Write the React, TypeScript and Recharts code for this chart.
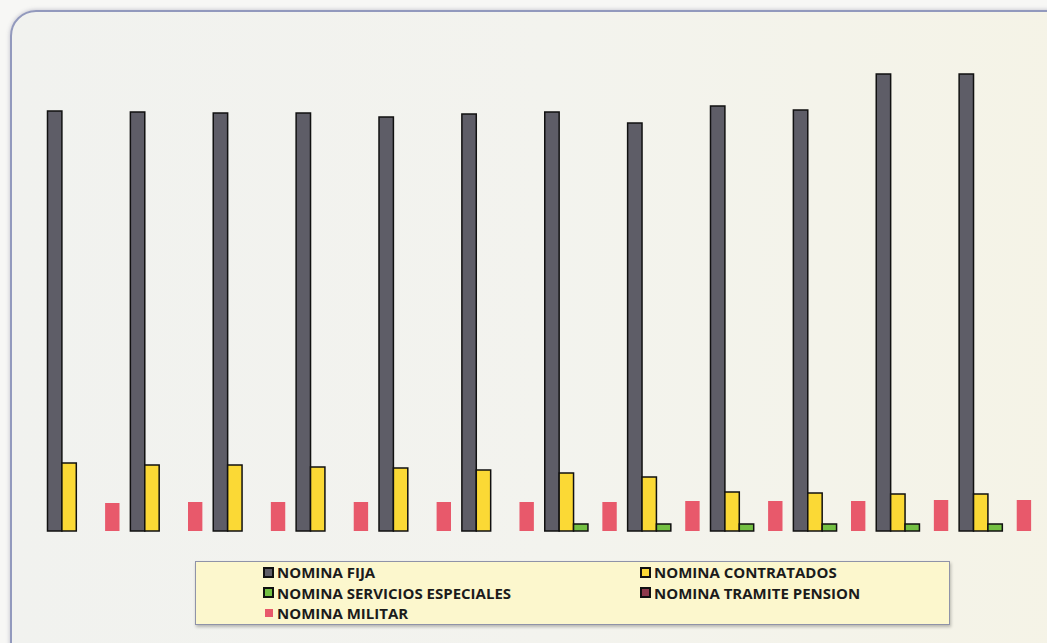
import { BarChart, Bar, XAxis, YAxis, Legend } from "recharts";

// twelve monthly payroll groups
const periods = ["P1", "P2", "P3", "P4", "P5", "P6", "P7", "P8", "P9", "P10", "P11", "P12"];
const nominaFija = [4200, 4190, 4180, 4180, 4140, 4170, 4190, 4080, 4250, 4210, 4570, 4570];
const nominaContratados = [680, 660, 660, 640, 630, 610, 580, 540, 390, 380, 370, 370];
const nominaServicios = [0, 0, 0, 0, 0, 0, 70, 70, 70, 70, 70, 70];
const nominaTramite = [0, 0, 0, 0, 0, 0, 0, 0, 0, 0, 0, 0];
const nominaMilitar = [280, 290, 290, 290, 290, 290, 290, 300, 300, 300, 310, 310];

const series = [
  { key: "fija", name: "NOMINA FIJA", fill: "#5e5d67", stroke: "#111" },
  { key: "contratados", name: "NOMINA CONTRATADOS", fill: "#fbd935", stroke: "#111" },
  { key: "servicios", name: "NOMINA SERVICIOS ESPECIALES", fill: "#74c043", stroke: "#111" },
  { key: "tramite", name: "NOMINA TRAMITE PENSION", fill: "#8e3a4c", stroke: "#111" },
  { key: "militar", name: "NOMINA MILITAR", fill: "#e8596b", stroke: "none" },
];

const data = periods.map((p, i) => ({
  period: p,
  fija: nominaFija[i],
  contratados: nominaContratados[i],
  servicios: nominaServicios[i],
  tramite: nominaTramite[i],
  militar: nominaMilitar[i],
}));

// legend order: two columns, filled row by row
const legendOrder = ["fija", "contratados", "servicios", "tramite", "militar"];

function LegendBox() {
  const items = legendOrder.map((k) => series.find((s) => s.key === k)!);
  return (
    <div
      style={{
        position: "absolute",
        left: 195,
        top: 561,
        width: 755,
        height: 64,
        background: "#fcf7cd",
        border: "1px solid #8f93a8",
        boxShadow: "1px 2px 3px rgba(0,0,0,0.25)",
        boxSizing: "border-box",
        fontFamily: "'Open Sans', sans-serif",
        fontWeight: 700,
        fontSize: 15,
        color: "#1b1b1b",
      }}
    >
      {items.map((s, i) => (
        <div
          key={s.key}
          style={{
            position: "absolute",
            left: i % 2 === 0 ? 67 : 444,
            top: 0 + Math.floor(i / 2) * 20.5,
            display: "flex",
            alignItems: "center",
            whiteSpace: "nowrap",
          }}
        >
          <span style={{ width: 11, height: 11, marginRight: 3, display: "flex", alignItems: "center", justifyContent: "center" }}>
            <span
              style={{
                display: "inline-block",
                width: s.stroke === "none" ? 8 : 7,
                height: s.stroke === "none" ? 8 : 7,
                background: s.fill,
                border: s.stroke === "none" ? "none" : "2px solid #111",
              }}
            />
          </span>
          {s.name}
        </div>
      ))}
    </div>
  );
}

export default function App() {
  return (
    <div style={{ position: "absolute", left: 0, top: 0, width: 1047, height: 643, background: "#f7f7f5", overflow: "hidden" }}>
      <div
        style={{
          position: "absolute",
          left: 10,
          top: 10,
          width: 1080,
          height: 680,
          borderRadius: 26,
          border: "2px solid #9299bd",
          background: "linear-gradient(90deg, #f1f2ef 0%, #f3f3ee 50%, #f5f3e6 100%)",
          boxShadow: "0 0 4px rgba(80,80,120,0.35)",
        }}
      />
      <div style={{ position: "absolute", left: 0, top: 0 }}>
        <BarChart
          width={1047}
          height={643}
          data={data}
          margin={{ top: 31, right: 10, bottom: 112, left: 42.5 }}
          barSize={14.4}
          barGap={0}
        >
          <XAxis dataKey="period" height={0} tick={false} tickLine={false} axisLine={{ stroke: "#111", strokeWidth: 2 }} />
          <YAxis hide domain={[0, 5000]} />
          <Legend content={() => null} />
          {series.map((s) => (
            <Bar
              key={s.key}
              dataKey={s.key}
              name={s.name}
              fill={s.fill}
              stroke={s.stroke}
              strokeWidth={1.5}
              isAnimationActive={false}
            />
          ))}
        </BarChart>
      </div>
      <LegendBox />
    </div>
  );
}
